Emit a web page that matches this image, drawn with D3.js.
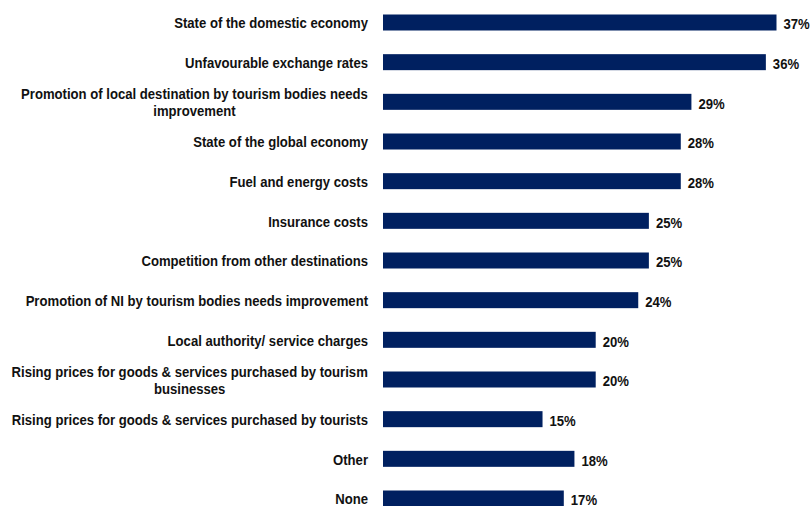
<!DOCTYPE html>
<html>
<head>
<meta charset="utf-8">
<script src="https://cdn.jsdelivr.net/npm/d3@7"></script>
<style>
  html, body { margin: 0; padding: 0; background: #ffffff; }
  svg text { font-family: "Liberation Sans Narrow", "Arial Narrow", "Liberation Sans", Arial, sans-serif; font-weight: bold; fill: #111; }
</style>
</head>
<body>
<svg id="chart" width="812" height="506"></svg>
<script>
// Barriers to business (share of respondents, %)
const categories = [
  "State of the domestic economy",
  "Unfavourable exchange rates",
  "Promotion of local destination by tourism bodies needs\nimprovement",
  "State of the global economy",
  "Fuel and energy costs",
  "Insurance costs",
  "Competition from other destinations",
  "Promotion of NI by tourism bodies needs improvement",
  "Local authority/ service charges",
  "Rising prices for goods & services purchased by tourism\nbusinesses",
  "Rising prices for goods & services purchased by tourists",
  "Other",
  "None"
];
const values = [37, 36, 29, 28, 28, 25, 25, 24, 20, 20, 15, 18, 17];

const svg = d3.select("#chart");
const barColor = "#002060";
const labelRight = 368;
const barLeft = 383;
const barHeight = 16;
const fontSize = 15;
const squeeze = 0.875; // horizontal condensing of the label face

const x = d3.scaleLinear().domain([0, 37]).range([barLeft, 776.5]);
const y = d3.scalePoint().domain(categories).range([22.5, 498.5]);

const data = categories.map((c, i) => ({ cat: c, value: values[i] }));

// bars
svg.append("g").selectAll("rect")
  .data(data)
  .join("rect")
  .attr("x", x(0))
  .attr("y", d => y(d.cat) - barHeight / 2)
  .attr("width", d => x(d.value) - x(0))
  .attr("height", barHeight)
  .attr("fill", barColor);

// value labels
svg.append("g").selectAll("text")
  .data(data)
  .join("text")
  .attr("transform", d => `translate(${x(d.value) + 7},${y(d.cat) + 1.5}) scale(${squeeze},1)`)
  .attr("dy", "0.35em")
  .attr("font-size", fontSize)
  .text(d => d.value + "%");

// category labels: right-aligned block, multi-line labels centred within it
const lineHeight = 17;
const labels = svg.append("g");
data.forEach(d => {
  const lines = d.cat.split("\n");
  const g = labels.append("g");
  const texts = lines.map(ln => g.append("text")
    .attr("font-size", fontSize)
    .attr("dy", "0.35em")
    .text(ln));
  const ys = lines.map((ln, j) => y(d.cat) + 0.5 + (j - (lines.length - 1) / 2) * lineHeight);
  if (lines.length === 1) {
    texts[0].attr("text-anchor", "end")
      .attr("transform", `translate(${labelRight},${ys[0]}) scale(${squeeze},1)`);
  } else {
    const w = d3.max(texts, t => t.node().getComputedTextLength()) * squeeze;
    texts.forEach((t, j) => t.attr("text-anchor", "middle")
      .attr("transform", `translate(${labelRight - w / 2},${ys[j]}) scale(${squeeze},1)`));
  }
});
</script>
</body>
</html>
